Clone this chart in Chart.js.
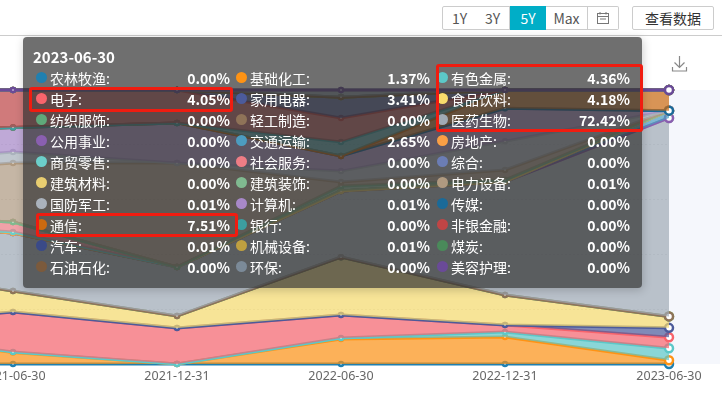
<!DOCTYPE html>
<html>
<head>
<meta charset="utf-8">
<script src="https://cdn.jsdelivr.net/npm/chart.js@4/dist/chart.umd.min.js"></script>
<style>
html, body { margin: 0; padding: 0; background: #fff; overflow: hidden; }
body { width: 722px; height: 396px; position: relative; font-family: "Noto Sans CJK SC", "Noto Sans", sans-serif; }
#plotBg { position: absolute; left: 0; top: 90px; width: 720px; height: 274px; background: #f5f7fc; }
#chart { position: absolute; left: -191px; top: 0; }
#topLine { position: absolute; left: 0; top: 35px; width: 722px; height: 1px; background: #ccc; }
.btn { position: absolute; top: 6px; height: 22px; line-height: 22px; border: 1px solid #ccc; box-sizing: content-box; text-align: center; font-size: 14px; color: #555; background: #fff; }
.btn.on { background: #00aec7; border-color: #00aec7; color: #fff; }
#tip { position: absolute; left: 23px; top: 37px; width: 619px; height: 251px; border-radius: 4px; background: rgba(50,50,50,.7); box-shadow: 1px 2px 10px rgba(0,0,0,.2); color: #fff; font-size: 14px; }
#tipTitle { position: absolute; left: 10px; top: 10px; font-weight: 700; font-size: 15px; line-height: 20px; }
.dot { position: absolute; width: 11px; height: 11px; border-radius: 50%; }
.lbl, .val { position: absolute; line-height: 20px; white-space: nowrap; }
.val { font-weight: 700; text-align: right; width: 70px; }
.mark { position: absolute; border: 3px solid #f01c10; border-radius: 3px; box-sizing: border-box; }
</style>
</head>
<body>
<div id="plotBg"></div>
<canvas id="chart" width="913" height="396"></canvas>
<div id="topLine"></div>

<div class="btn" style="left:442px;width:33px;border-radius:2px 0 0 2px">1Y</div>
<div class="btn" style="left:476px;width:33px;border-left:0">3Y</div>
<div class="btn on" style="left:510px;width:36px;border-left:0">5Y</div>
<div class="btn" style="left:546px;width:41px;border-left:0">Max</div>
<div class="btn" style="left:588px;width:30px;border-left:0;border-radius:0 2px 2px 0">
  <svg width="14" height="14" viewBox="0 0 14 14" style="margin-top:4px" fill="none" stroke="#777"><rect x="1.5" y="2.5" width="11" height="10"/><path d="M1.5 5.5h11M4 1v2.5M10 1v2.5M4 8h6" /></svg>
</div>
<div class="btn" style="left:632px;width:80px;border-radius:2px;color:#333">查看数据</div>
<svg style="position:absolute;left:671px;top:55px" width="17" height="17" viewBox="0 0 17 17" fill="none" stroke="#888" stroke-width="1.2"><path d="M8.5 1v11M3.5 7.5l5 5 5-5M1.5 12v4h14v-4"/></svg>

<div id="tip"></div>
<div class="mark" style="left:29px;top:87px;width:204px;height:25px"></div>
<div class="mark" style="left:36px;top:213px;width:202px;height:24px"></div>
<div class="mark" style="left:436px;top:64px;width:207px;height:68px"></div>

<script>
const dates = ['2020-12-31', '2021-06-30', '2021-12-31', '2022-06-30', '2022-12-31', '2023-06-30'];
const tipDate = '2023-06-30';

const names = ['农林牧渔', '基础化工', '有色金属', '电子', '家用电器', '食品饮料', '纺织服饰', '轻工制造', '医药生物', '公用事业',
  '交通运输', '房地产', '商贸零售', '社会服务', '综合', '建筑材料', '建筑装饰', '电力设备', '国防军工', '计算机',
  '传媒', '通信', '银行', '非银金融', '汽车', '机械设备', '煤炭', '石油石化', '环保', '美容护理'];

const nonglin = [0, 0, 0, 0, 0, 0];
const jichu = [12, 4.2, 0, 9.1, 9.85, 1.37];
const youse = [0.4, 0.2, 0, 0.4, 1.85, 4.36];
const dianzi = [1.8, 14.6, 13.1, 8.4, 2.5, 4.05];
const jiadian = [0, 0, 0, 0, 0, 3.41];
const shipin = [21.6, 7.6, 4.4, 21.1, 11, 4.18];
const fangzhi = [0, 0, 0, 0, 0, 0];
const qinggong = [0, 0, 0, 0, 0, 0];
const yiyao = [16, 21.2, 17.9, 24.1, 41.3, 72.42];
const gongyong = [0, 0, 0, 0, 0, 0];
const jiaotong = [0, 0, 0, 0, 0, 2.65];
const fangdichan = [0, 0, 0, 0, 0, 0];
const shangmao = [0.4, 0.4, 0, 0, 0, 0];
const shehui = [2.2, 3.6, 0, 0, 0, 0];
const zonghe = [0, 0, 0, 0, 0, 0];
const jiancai = [0, 0, 0, 0, 0, 0];
const jianzhu = [0, 0, 0, 1.9, 0.7, 0];
const dianli = [14.6, 21.6, 38, 1.4, 3.6, 0.01];
const guofang = [3.6, 4, 0, 4, 10.5, 0.01];
const jisuanji = [11.7, 8.9, 14.6, 5.5, 12, 0.01];
const chuanmei = [0, 0, 0, 0, 0, 0];
const tongxin = [0, 0, 0, 0, 6.7, 7.51];
const yinhang = [0, 0, 0, 5.1, 0, 0];
const feiyin = [15.7, 13.7, 12, 8.8, 0, 0];
const qiche = [0, 0, 0, 7.6, 0, 0.01];
const jixie = [0, 0, 0, 0, 0, 0.01];
const meitan = [0, 0, 0, 0, 0, 0];
const shiyou = [0, 0, 0, 0, 0, 0];
const huanbao = [0, 0, 0, 2.6, 0, 0];
const meirong = [0, 0, 0, 0, 0, 0];

const seriesValues = [nonglin, jichu, youse, dianzi, jiadian, shipin, fangzhi, qinggong, yiyao, gongyong,
  jiaotong, fangdichan, shangmao, shehui, zonghe, jiancai, jianzhu, dianli, guofang, jisuanji,
  chuanmei, tongxin, yinhang, feiyin, qiche, jixie, meitan, shiyou, huanbao, meirong];

const colors = ['#2080b0', '#ff9314', '#5cc8c8', '#f8646c', '#4c5b9b', '#f8dc6c', '#5fa87a', '#8f7358', '#a0aab5', '#8a5fb0',
  '#4c9cc0', '#fb9f45', '#6ccfca', '#ee7d85', '#6b7db5', '#e8cd70', '#80ba90', '#b09a80', '#aab2bc', '#a888c8',
  '#1a6a98', '#cc6a10', '#3d9ea0', '#c04545', '#3a4a88', '#bfa040', '#4a8a5a', '#7b5a3c', '#7b8a98', '#6a4a98'];

function alpha(hex, a) {
  const n = parseInt(hex.slice(1), 16);
  return 'rgba(' + (n >> 16) + ',' + ((n >> 8) & 255) + ',' + (n & 255) + ',' + a + ')';
}

// stacked by hand: the later series has to be painted over the earlier ones
const running = dates.map(() => 0);
const datasets = seriesValues.map((vals, i) => {
  vals.forEach((v, k) => { running[k] += v; });
  return {
    label: names[i],
    data: running.slice(),
    order: seriesValues.length - i,
    borderColor: colors[i],
    backgroundColor: alpha(colors[i], 0.7),
    borderWidth: 3,
    fill: i === 0 ? 'origin' : '-1',
    tension: 0,
    clip: false,
    pointBackgroundColor: '#fff',
    pointBorderColor: colors[i],
    pointBorderWidth: 2.5,
    pointRadius: ctx => ctx.dataIndex === dates.length - 1 ? 4 : 2
  };
});

new Chart(document.getElementById('chart').getContext('2d'), {
  type: 'line',
  data: { labels: dates, datasets },
  options: {
    responsive: false,
    animation: false,
    layout: { padding: { left: 40, right: 53, top: 90, bottom: 0 } },
    plugins: { legend: { display: false }, tooltip: { enabled: false } },
    scales: {
      x: {
        grid: { display: false, drawTicks: true, tickLength: 4, tickColor: '#666' },
        border: { display: false },
        ticks: { color: '#666', font: { family: '"Noto Sans"', size: 12.5 }, padding: 1, maxRotation: 0, autoSkip: false },
        afterFit: s => { s.height = 32; }
      },
      y: {
        min: 0,
        max: 100,
        ticks: { display: false, stepSize: 20 },
        grid: { color: 'rgba(0,0,0,.1)', drawTicks: false, tickBorderDash: [2, 2] },
        border: { display: false, dash: [2, 2] }
      }
    }
  }
});

// the hover box of the last date
const tip = document.getElementById('tip');
let html = '<div id="tipTitle">' + tipDate + '</div>';
const colX = [13, 213, 414];
const valRight = [207, 407, 607];
names.forEach((name, i) => {
  const col = i % 3, row = Math.floor(i / 3);
  const top = 31 + row * 21;
  const last = seriesValues[i][dates.length - 1];
  html += '<span class="dot" style="left:' + colX[col] + 'px;top:' + (top + 4) + 'px;background:' + colors[i] + '"></span>';
  html += '<span class="lbl" style="left:' + (colX[col] + 14) + 'px;top:' + top + 'px">' + name + ':</span>';
  html += '<span class="val" style="left:' + (valRight[col] - 70) + 'px;top:' + top + 'px">' + last.toFixed(2) + '%</span>';
});
tip.innerHTML = html;
</script>
</body>
</html>
